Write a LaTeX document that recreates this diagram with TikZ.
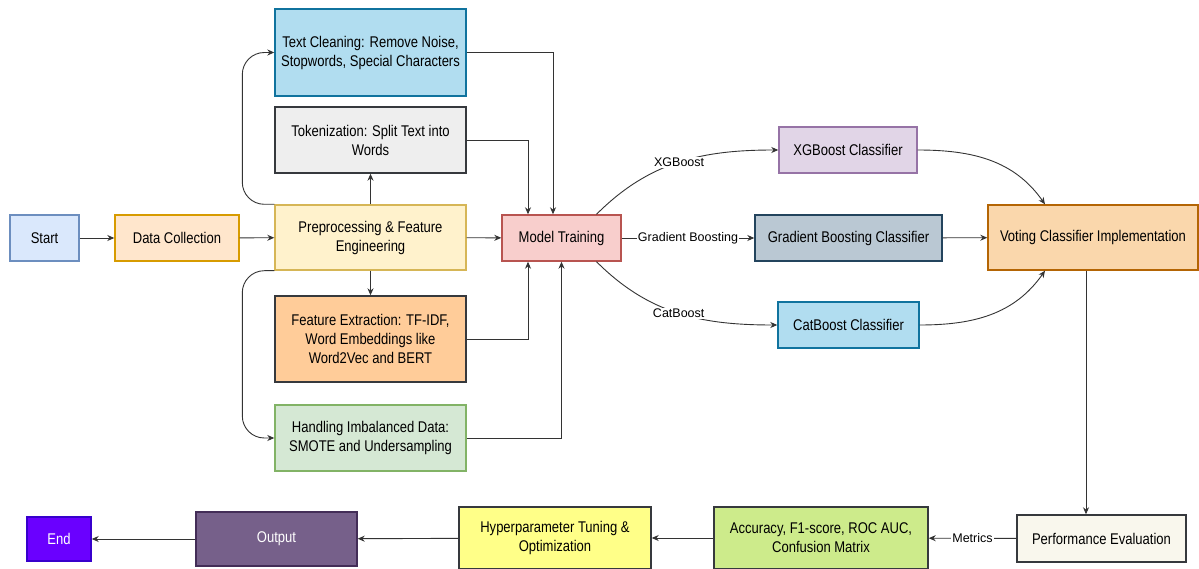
\documentclass[tikz,border=0pt]{standalone}
\usepackage{fontspec}
\setmainfont{Liberation Sans}
\newfontfamily\blockfont{Liberation Sans}[FakeStretch=0.84]
\usepackage{tikz}
\usetikzlibrary{positioning, arrows.meta}
\definecolor{linegray}{HTML}{333333}
\definecolor{startfill}{HTML}{DAE8FC}\definecolor{startdraw}{HTML}{6C8EBF}
\definecolor{collectfill}{HTML}{FFE6CC}\definecolor{collectdraw}{HTML}{D79B00}
\definecolor{prepfill}{HTML}{FFF2CC}\definecolor{prepdraw}{HTML}{D6B656}
\definecolor{bluefill}{HTML}{B1DDF0}\definecolor{bluedraw}{HTML}{10739E}
\definecolor{grayfill}{HTML}{EEEEEE}\definecolor{darkdraw}{HTML}{36393D}
\definecolor{featfill}{HTML}{FFCC99}
\definecolor{imbalfill}{HTML}{D5E8D4}\definecolor{imbaldraw}{HTML}{82B366}
\definecolor{trainfill}{HTML}{F8CECC}\definecolor{traindraw}{HTML}{B85450}
\definecolor{xgbfill}{HTML}{E1D5E7}\definecolor{xgbdraw}{HTML}{9673A6}
\definecolor{gbfill}{HTML}{BAC8D3}\definecolor{gbdraw}{HTML}{23445D}
\definecolor{votefill}{HTML}{FAD7AC}\definecolor{votedraw}{HTML}{B46504}
\definecolor{perffill}{HTML}{F9F7ED}
\definecolor{metricfill}{HTML}{CDEB8B}
\definecolor{hyperfill}{HTML}{FFFF88}
\definecolor{outfill}{HTML}{76608A}\definecolor{outdraw}{HTML}{432D57}
\definecolor{endfill}{HTML}{6A00FF}\definecolor{enddraw}{HTML}{3700CC}
\tikzstyle{block}=[draw, line width=1.4pt, align=center, inner sep=2pt, font=\blockfont\fontsize{15.5}{19}\selectfont]
\tikzstyle{arrow}=[-{Stealth[length=7pt,width=6pt]}, line width=0.9pt, draw=linegray]
\tikzstyle{edgelabel}=[fill=white, inner sep=1pt, text=black, font=\fontsize{12.5}{14}\selectfont]

\begin{document}
\begin{tikzpicture}[x=1pt, y=1pt]
  \useasboundingbox (0,0) rectangle (1199,-569);

  % main row
  \node [block, fill=startfill, draw=startdraw, minimum width=69, minimum height=46] (start) at (44.5,-238) {Start};
  \node [block, fill=collectfill, draw=collectdraw, minimum width=124, minimum height=46] (collect) at (177,-238) {Data Collection};
  \node [block, fill=prepfill, draw=prepdraw, minimum width=191, minimum height=65] (prep) at (370.5,-237.5) {Preprocessing \& Feature\\Engineering};
  \node [block, fill=trainfill, draw=traindraw, minimum width=119, minimum height=46] (train) at (561.5,-238) {Model Training};

  % preprocessing steps
  \node [block, fill=bluefill, draw=bluedraw, minimum width=191, minimum height=87] (clean) at (370.5,-52.5) {Text Cleaning: Remove Noise,\\Stopwords, Special Characters};
  \node [block, fill=grayfill, draw=darkdraw, minimum width=191, minimum height=66] (token) at (370.5,-140) {Tokenization: Split Text into\\Words};
  \node [block, fill=featfill, draw=darkdraw, minimum width=191, minimum height=86] (feat) at (370.5,-339) {Feature Extraction: TF-IDF,\\Word Embeddings like\\Word2Vec and BERT};
  \node [block, fill=imbalfill, draw=imbaldraw, minimum width=191, minimum height=66] (imbal) at (370.5,-438) {Handling Imbalanced Data:\\SMOTE and Undersampling};

  % classifiers
  \node [block, fill=xgbfill, draw=xgbdraw, minimum width=138, minimum height=46] (xgb) at (848,-150) {XGBoost Classifier};
  \node [block, fill=gbfill, draw=gbdraw, minimum width=187, minimum height=46] (gb) at (848.5,-238) {Gradient Boosting Classifier};
  \node [block, fill=bluefill, draw=bluedraw, minimum width=141, minimum height=46] (cat) at (848.5,-325) {CatBoost Classifier};
  \node [block, fill=votefill, draw=votedraw, minimum width=210, minimum height=65] (vote) at (1093,-237.5) {Voting Classifier Implementation};

  % bottom row
  \node [block, fill=perffill, draw=darkdraw, minimum width=169, minimum height=47] (perf) at (1101.5,-538.5) {Performance Evaluation};
  \node [block, fill=metricfill, draw=darkdraw, minimum width=214, minimum height=62] (metric) at (821,-538) {Accuracy, F1-score, ROC AUC,\\Confusion Matrix};
  \node [block, fill=hyperfill, draw=darkdraw, minimum width=192, minimum height=62] (hyper) at (555,-538) {Hyperparameter Tuning \&\\Optimization};
  \node [block, fill=outfill, draw=outdraw, text=white, minimum width=161, minimum height=54] (output) at (276.5,-539) {Output};
  \node [block, fill=endfill, draw=enddraw, text=white, minimum width=64, minimum height=44] (endn) at (59,-539) {End};

  \draw [arrow] (start) -- (collect);
  \draw [arrow] (collect) -- (prep);
  \draw [arrow] (prep) -- (train);
  \draw [arrow] (prep) -- (token);
  \draw [arrow] (prep) -- (feat);
  \draw [arrow, rounded corners=22pt] (prep.north west) -- ++(-32,0) |- (clean.west);
  \draw [arrow, rounded corners=22pt] (prep.south west) -- ++(-32,0) |- (imbal.west);

  \draw [arrow] (clean.east) -| ([xshift=-8.5pt]train.north);
  \draw [arrow] (token.east) -| ([xshift=-33.5pt]train.north);
  \draw [arrow] (feat.east) -| ([xshift=-33.5pt]train.south);
  \draw [arrow] (imbal.east) -| (train.south);

  \draw [arrow] ([xshift=35pt]train.north) to[out=45, in=180] node [edgelabel] {XGBoost} (xgb.west);
  \draw [arrow] (train) -- node [edgelabel] {Gradient Boosting} (gb);
  \draw [arrow] ([xshift=35pt]train.south) to[out=-45, in=180] node [edgelabel] {CatBoost} (cat.west);

  \draw [arrow] (xgb.east) to[out=0, in=125] ([xshift=-48pt]vote.north);
  \draw [arrow] (gb) -- (vote);
  \draw [arrow] (cat.east) to[out=0, in=-125] ([xshift=-48pt]vote.south);

  \draw [arrow] ([xshift=-7pt]vote.south) -- ([xshift=-15.5pt]perf.north);
  \draw [arrow] (perf) -- node [edgelabel] {Metrics} (metric);
  \foreach \a/\b in {metric/hyper, hyper/output, output/endn}
    \draw [arrow] (\a) -- (\b);
\end{tikzpicture}
\end{document}
